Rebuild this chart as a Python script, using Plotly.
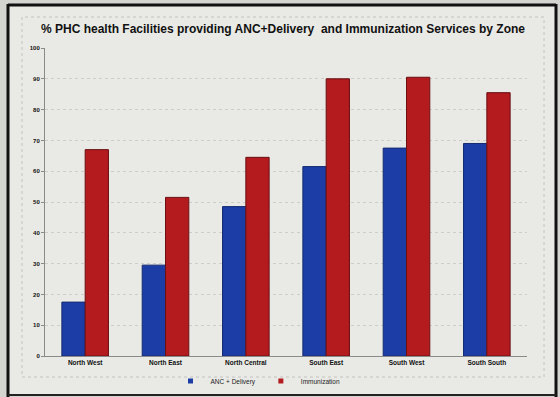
import plotly.graph_objects as go

zones = ["North West", "North East", "North Central", "South East", "South West", "South South"]
anc_delivery = [17.5, 29.5, 48.5, 61.5, 67.5, 69]
immunization = [67, 51.5, 64.5, 90, 90.5, 85.5]
y_ticks = [0, 10, 20, 30, 40, 50, 60, 70, 80, 90, 100]

W, H = 560, 397
L, R, T, B = 45, 33, 48, 41
pw, ph = W - L - R, H - T - B


def px(x):
    return (x - L) / pw


def py(y):
    return (H - B - y) / ph


SLIDE = "#e9eae6"
BLUE = "#1c3ca6"
RED = "#b31b1e"
FONT = "Liberation Sans, Arial"

fig = go.Figure()
fig.add_trace(go.Bar(
    x=zones, y=anc_delivery, name="ANC + Delivery", showlegend=False,
    marker=dict(color=BLUE, line=dict(color="#142a70", width=1)),
))
fig.add_trace(go.Bar(
    x=zones, y=immunization, name="Immunization", showlegend=False,
    marker=dict(color=RED, line=dict(color="#6a0f12", width=1)),
))
# legend entries with small square keys
fig.add_trace(go.Scatter(x=[None], y=[None], mode="markers", name="ANC + Delivery",
                         marker=dict(symbol="square", size=5, color=BLUE)))
fig.add_trace(go.Scatter(x=[None], y=[None], mode="markers", name="Immunization",
                         marker=dict(symbol="square", size=5, color=RED)))

fig.update_layout(
    width=W, height=H,
    margin=dict(l=L, r=R, t=T, b=B, autoexpand=False),
    paper_bgcolor="#d4d5d1",
    plot_bgcolor=SLIDE,
    barmode="group",
    bargap=0.42,
    bargroupgap=0,
    title=dict(
        text="<b>% PHC health Facilities providing ANC+Delivery  and Immunization Services by Zone</b>",
        x=283 / W, xanchor="center", y=1 - 29 / H, yanchor="middle",
        xref="container", yref="container",
        font=dict(family=FONT, size=12, color="#111111"),
    ),
    showlegend=True,
    legend=dict(
        orientation="h", x=px(258), xanchor="center", y=py(381), yanchor="middle",
        font=dict(family=FONT, size=6.5, color="#222222"),
        bgcolor="rgba(0,0,0,0)", itemwidth=30,
    ),
    font=dict(family=FONT),
)
fig.update_xaxes(
    automargin=False,
    showline=True, linecolor="#8a8a8a", linewidth=1,
    tickfont=dict(size=6.5, color="#111111", family=FONT, weight="bold"),
    ticks="", showgrid=False,
)
fig.update_yaxes(
    automargin=False,
    range=[0, 100], tickvals=y_ticks,
    showline=True, linecolor="#8a8a8a", linewidth=1,
    ticks="outside", ticklen=3, tickcolor="#8a8a8a",
    tickfont=dict(size=6, color="#111111", family=FONT, weight="bold"),
    showgrid=True, gridcolor="#cdcdca", griddash="dot", gridwidth=1,
    zeroline=False,
)

# slide background and frame (photo of a projected slide)
fig.add_shape(type="rect", xref="paper", yref="paper", layer="below",
              x0=px(8), x1=px(556), y0=py(396), y1=py(5),
              fillcolor=SLIDE, line=dict(width=0))
fig.add_shape(type="rect", xref="paper", yref="paper",
              x0=px(22), x1=px(544), y0=py(377), y1=py(17),
              line=dict(color="#c2c2bf", width=1, dash="dot"))
fig.add_shape(type="line", xref="paper", yref="paper", x0=px(8), x1=px(8), y0=py(397), y1=py(4),
              line=dict(color="#111111", width=3))
fig.add_shape(type="line", xref="paper", yref="paper", x0=px(556), x1=px(556), y0=py(397), y1=py(4),
              line=dict(color="#111111", width=3))
fig.add_shape(type="line", xref="paper", yref="paper", x0=px(8), x1=px(556), y0=py(5), y1=py(5),
              line=dict(color="#111111", width=3))
fig.add_shape(type="line", xref="paper", yref="paper", x0=px(8), x1=px(556), y0=py(395), y1=py(395),
              line=dict(color="#222222", width=2))

fig.write_html("out.html", config={"displayModeBar": False})

# remove the browser's default page margin so the figure sits at (0, 0)
with open("out.html", encoding="utf-8") as f:
    html = f.read()
html = html.replace("<body>", '<body style="margin:0;padding:0;overflow:hidden">', 1)
with open("out.html", "w", encoding="utf-8") as f:
    f.write(html)
